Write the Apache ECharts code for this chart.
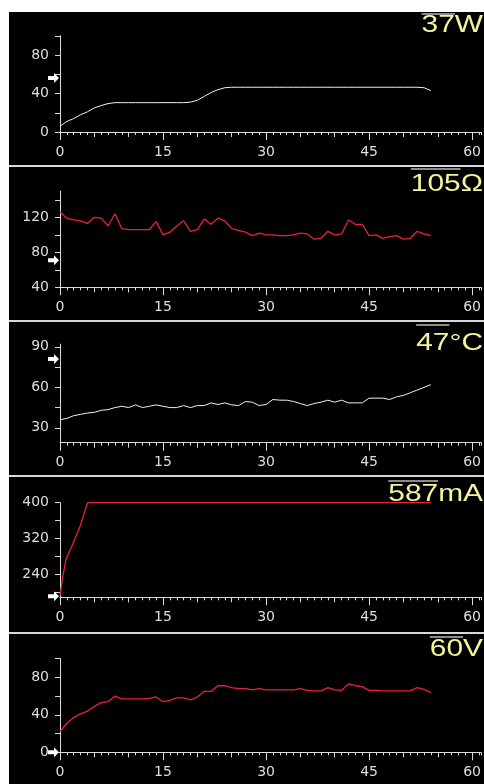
<!DOCTYPE html>
<html>
<head>
<meta charset="utf-8">
<script src="https://cdn.jsdelivr.net/npm/echarts@6/dist/echarts.min.js"></script>
<style>
  html, body { margin: 0; padding: 0; background: #fff; }
  #main { width: 484px; height: 784px; }
</style>
</head>
<body>
<div id="main"></div>
<script>
// time axis (minutes)
const minutes = [0, 1, 2, 3, 4, 5, 6, 7, 8, 9, 10, 11, 12, 13, 14, 15, 16, 17, 18, 19, 20,
  21, 22, 23, 24, 25, 26, 27, 28, 29, 30, 31, 32, 33, 34, 35, 36, 37, 38, 39, 40,
  41, 42, 43, 44, 45, 46, 47, 48, 49, 50, 51, 52, 53, 54];

// power, W
const power = [6, 11, 14, 18, 21, 25, 27.5, 29.5, 30.5, 30.5, 30.5, 30.5, 30.5, 30.5, 30.5, 30.5, 30.5, 30.5, 30.5, 31, 33,
  37, 41, 44, 46, 46.5, 46.5, 46.5, 46.5, 46.5, 46.5, 46.5, 46.5, 46.5, 46.5, 46.5, 46.5, 46.5, 46.5, 46.5, 46.5,
  46.5, 46.5, 46.5, 46.5, 46.5, 46.5, 46.5, 46.5, 46.5, 46.5, 46.5, 46.5, 46, 43];

// resistance, ohm
const resistance = [126, 119, 117, 116, 113, 120, 119, 110, 124, 107, 106, 106, 106, 106, 115, 100, 103, 110, 116, 104, 106,
  118, 112, 119, 116, 107, 105, 103, 99, 102, 100, 100, 99, 99, 100, 102, 101, 95, 96, 104, 100,
  101, 117, 112, 112, 99, 100, 96, 98, 99, 95, 96, 104, 101, 99];

// temperature, C
const temperature = [36, 37, 39, 40, 41, 41.5, 43, 43.5, 45, 46, 45, 47, 45, 46, 47, 46, 45, 45, 46.5, 45, 46.5,
  46.5, 48.5, 47.3, 48.5, 47, 46.5, 49.5, 49, 46.5, 47.3, 51, 50.5, 50.5, 49.5, 48, 46.5, 48, 49, 50.5, 49,
  50.5, 48.5, 48.5, 48.5, 52, 52, 52, 51, 53, 54, 56, 58, 60, 62];

// current, mA (ramp at start, then flat)
const currentTimes = [0, 0.4, 0.9, 1.6, 2.9, 4, 54];
const current = [192, 235, 275, 298, 346, 400, 400];

// voltage, V
const voltage = [22, 31, 37, 41, 44, 49, 53, 54, 60, 57, 57, 57, 57, 57.5, 59, 54, 55.5, 58, 58, 56, 59,
  65, 65, 71, 71, 69, 68, 68, 66.5, 68, 66.5, 66.5, 66.5, 66.5, 66.5, 68, 66, 65.5, 65.5, 69, 66.5,
  66, 73, 71, 70, 66, 66, 65.5, 65.5, 65.5, 65.5, 65.5, 69, 67, 64];

const meanValues = ['37', '105', '47', '587', '60'];
const units = ['W', 'Ω', '°C', 'mA', 'V'];
const setpoints = [56, 71, 81, 191, 0];

const xTickLabels = [0, 15, 30, 45, 60];
const xFiveTicks = [0, 5, 10, 15, 20, 25, 30, 35, 40, 45, 50, 55, 60];
const yRanges = [[0, 100], [40, 150], [19, 92], [188.6, 400], [0, 100]];
const yTicks = [[0, 20, 40, 60, 80, 100], [40, 60, 80, 100, 120, 140], [30, 45, 60, 75, 90],
  [200, 240, 280, 320, 360, 400], [0, 20, 40, 60, 80, 100]];
const yLabels = [[0, 40, 80], [40, 80, 120], [30, 60, 90], [240, 320, 400], [0, 40, 80]];

// panel layout (pixels)
const gridTops = [35.75, 191.05, 344.15, 502.7, 658.55];
const gridHeights = [96.25, 96.25, 98.55, 94.6, 93.75];
const titleCenters = [25.5, 184.5, 343.5, 495, 650];
const overlineYs = [14, 169, 325, 481, 637];
const separators = [166, 321, 476, 633];

const axisColor = '#dcdcdc';
const labelColor = '#dedede';
const whiteLine = '#f0f0f0';
const redLine = '#e8203c';
const xMax = 61.3;
const labelFont = 'DejaVu Sans';

const seriesData = [
  minutes.map((m, k) => [m, power[k]]),
  minutes.map((m, k) => [m, resistance[k]]),
  minutes.map((m, k) => [m, temperature[k]]),
  currentTimes.map((m, k) => [m, current[k]]),
  minutes.map((m, k) => [m, voltage[k]])
];
const lineColors = [whiteLine, redLine, whiteLine, redLine, redLine];

let grids = [], xAxes = [], yAxes = [], series = [];
for (let i = 0; i < 5; i++) {
  grids.push({ left: 60, right: 0, top: gridTops[i], height: gridHeights[i] });
  const base = { gridIndex: i, type: 'value', min: 0, max: xMax, position: 'bottom', splitLine: { show: false } };
  // minute ticks + labels
  xAxes.push(Object.assign({}, base, {
    interval: 1,
    axisLine: { show: true, onZero: false, lineStyle: { color: axisColor } },
    axisTick: { show: true, length: 3, lineStyle: { color: axisColor } },
    axisLabel: { customValues: xTickLabels, margin: 13, color: labelColor, fontFamily: labelFont, fontSize: 14 }
  }));
  // every 5 minutes
  xAxes.push(Object.assign({}, base, {
    axisLine: { show: false, onZero: false },
    axisTick: { show: true, length: 5, customValues: xFiveTicks, lineStyle: { color: axisColor } },
    axisLabel: { show: false }
  }));
  // every 15 minutes
  xAxes.push(Object.assign({}, base, {
    axisLine: { show: false, onZero: false },
    axisTick: { show: true, length: 8, customValues: xTickLabels, lineStyle: { color: axisColor } },
    axisLabel: { show: false }
  }));
  yAxes.push({
    gridIndex: i, type: 'value', min: yRanges[i][0], max: yRanges[i][1], position: 'left',
    axisLine: { show: true, onZero: false, lineStyle: { color: axisColor } },
    axisTick: { show: true, length: 5, customValues: yTicks[i], lineStyle: { color: axisColor } },
    axisLabel: { customValues: yLabels[i], margin: 11, color: labelColor, fontFamily: labelFont, fontSize: 14 },
    splitLine: { show: false }
  });
  series.push({
    type: 'line', xAxisIndex: i * 3, yAxisIndex: i, showSymbol: false, silent: true,
    lineStyle: { color: lineColors[i], width: i === 0 || i === 2 ? 1 : 1.3 },
    data: seriesData[i]
  });
}

// background + separators
let graphics = [
  { type: 'rect', z: -10, silent: true, shape: { x: 9, y: 12, width: 475, height: 772 }, style: { fill: '#000' } }
];
separators.forEach(y => {
  graphics.push({ type: 'rect', z: 10, silent: true, shape: { x: 9, y: y - 1, width: 475, height: 2 }, style: { fill: '#d8d8d8' } });
});

// titles (mean value with overline + unit), wide yellow font
const ctx = document.createElement('canvas').getContext('2d');
ctx.font = '23px "Liberation Sans"';
const stretch = 1.3;
for (let i = 0; i < 5; i++) {
  const unitW = ctx.measureText(units[i]).width * stretch;
  const numW = ctx.measureText(meanValues[i]).width * stretch;
  const right = 483;
  graphics.push({
    type: 'text', z: 20, x: right, y: titleCenters[i], scaleX: stretch,
    style: { text: units[i], fontSize: 23, fontFamily: 'Liberation Sans', fill: '#f4f49a', align: 'right', verticalAlign: 'middle' }
  });
  graphics.push({
    type: 'text', z: 20, x: right - unitW, y: titleCenters[i], scaleX: stretch,
    style: { text: meanValues[i], fontSize: 23, fontFamily: 'Liberation Sans', fill: '#f4f49a', align: 'right', verticalAlign: 'middle' }
  });
  graphics.push({
    type: 'line', z: 20, silent: true,
    shape: { x1: right - unitW - numW, y1: overlineYs[i], x2: right - unitW, y2: overlineYs[i] },
    style: { stroke: '#b8b8b8', lineWidth: 1.5 }
  });
}

const chart = echarts.init(document.getElementById('main'));
chart.setOption({
  animation: false,
  backgroundColor: 'transparent',
  grid: grids,
  xAxis: xAxes,
  yAxis: yAxes,
  series: series,
  graphic: graphics
});

// setpoint arrows on the left of each y axis
const arrows = [];
for (let i = 0; i < 5; i++) {
  const p = chart.convertToPixel({ xAxisIndex: i * 3, yAxisIndex: i }, [0, setpoints[i]]);
  const tx = p[0] - 1, ty = p[1];
  arrows.push({
    type: 'polygon', z: 30, silent: true,
    shape: { points: [[tx - 11, ty - 2], [tx - 5, ty - 2], [tx - 5, ty - 5], [tx, ty], [tx - 5, ty + 5], [tx - 5, ty + 2], [tx - 11, ty + 2]] },
    style: { fill: '#fff' }
  });
}
chart.setOption({ graphic: graphics.concat(arrows) });
</script>
</body>
</html>
